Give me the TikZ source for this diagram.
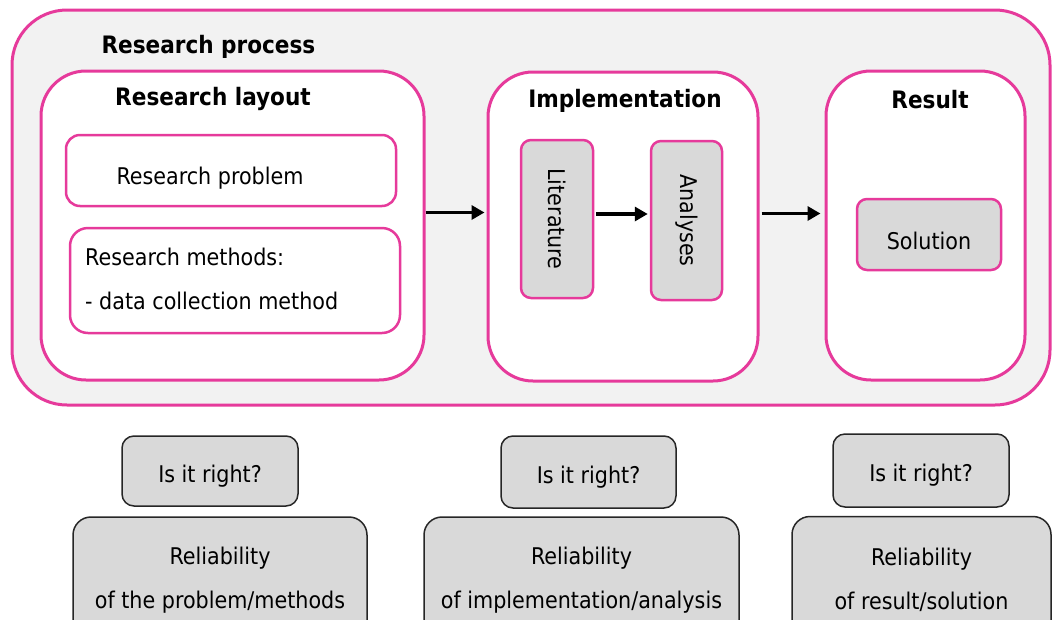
\documentclass[tikz,border=0pt]{standalone}
\usepackage{fontspec}
\setmainfont{DejaVu Sans Condensed}
\usetikzlibrary{arrows.meta}
\definecolor{pinkline}{RGB}{230,58,155}
\definecolor{boxgray}{RGB}{217,217,217}
\definecolor{backgray}{RGB}{242,242,242}

\begin{document}
\begin{tikzpicture}[x=1pt, y=-1pt, font=\fontsize{23}{44}\selectfont,
  phase/.style={draw=pinkline, fill=white, line width=3pt, rounded corners=45pt, inner sep=0pt},
  part/.style={draw=pinkline, fill=white, line width=2.5pt, rounded corners=14pt, inner sep=0pt},
  item/.style={draw=pinkline, fill=boxgray, line width=2.5pt, rounded corners=10pt, inner sep=0pt},
  check/.style={draw=black!85, fill=boxgray, line width=1.5pt, rounded corners=12pt, inner sep=0pt},
  heading/.style={font=\fontsize{24}{44}\selectfont\bfseries},
  flow/.style={-{Triangle[length=13pt,width=14pt]}, line width=3.5pt, shorten >=2pt}]
\clip (0,0) rectangle (1052,619);

\node[draw=pinkline, fill=backgray, line width=3pt, rounded corners=55pt,
  minimum width=1038pt, minimum height=395pt] (process) at (531,207.5) {};
\node[heading, anchor=west] (processtitle) at (98,47) {Research process};

% research layout
\node[phase, minimum width=383pt, minimum height=309pt] (layout) at (232.5,225.5) {};
\node[heading] (layouttitle) at (213,99) {Research layout};
\node[part, minimum width=330pt, minimum height=71pt] (problem) at (231,170.5) {};
\node (problemtext) at (210,178) {Research problem};
\node[part, rounded corners=18pt, minimum width=330pt, minimum height=105pt] (methods) at (235,280.5) {};
\node[anchor=west, align=left, inner sep=0pt] (methodstext) at (85,279) {Research methods:\\- data collection method};

% implementation
\node[phase, minimum width=270pt, minimum height=309pt] (impl) at (623,226.5) {};
\node[heading] (impltitle) at (625,101) {Implementation};
\node[item, rotate=-90, minimum width=158pt, minimum height=72pt] (lit) at (557,219) {Literature};
\node[item, rotate=-90, minimum width=159pt, minimum height=71pt] (ana) at (686.5,220.5) {Analyses};

% result
\node[phase, minimum width=199pt, minimum height=309pt] (result) at (925.5,225.5) {};
\node[heading] (resulttitle) at (930,100) {Result};
\node[item, minimum width=144pt, minimum height=71pt] (solution) at (929,234.5) {};
\node (solutiontext) at ([yshift=-6pt]solution) {Solution};

\draw[flow] ([yshift=13pt]layout.east) -- ([yshift=13pt]layout.east -| impl.west);
\draw[flow] ([yshift=5pt,xshift=2pt]lit.north) -- ([yshift=5pt]lit.north -| ana.south);
\draw[flow, shorten >=4pt] ([yshift=13pt,xshift=2pt]impl.east) -- ([yshift=13pt]impl.east -| result.west);

% checks below
\node[check, minimum width=176pt, minimum height=70pt] (right1) at (210,471) {};
\node[check, minimum width=175pt, minimum height=72pt] (right2) at (588.5,472) {};
\node[check, minimum width=176pt, minimum height=73pt] (right3) at (921,470.5) {};
\foreach \n in {1,2,3}
  \node at ([yshift=-5pt]right\n) {Is it right?};
\node[check, rounded corners=18pt, minimum width=294pt, minimum height=123pt] (rel1) at (220,578.5) {};
\node[check, rounded corners=18pt, minimum width=315pt, minimum height=123pt] (rel2) at (581.5,578.5) {};
\node[check, rounded corners=18pt, minimum width=259pt, minimum height=123pt] (rel3) at (921.5,578) {};
\node[align=center] at ([yshift=-2pt]rel1) {Reliability\\of the problem/methods};
\node[align=center] at ([yshift=-2pt]rel2) {Reliability\\of implementation/analysis};
\node[align=center] at ([yshift=-2pt]rel3) {Reliability\\of result/solution};
\end{tikzpicture}
\end{document}
